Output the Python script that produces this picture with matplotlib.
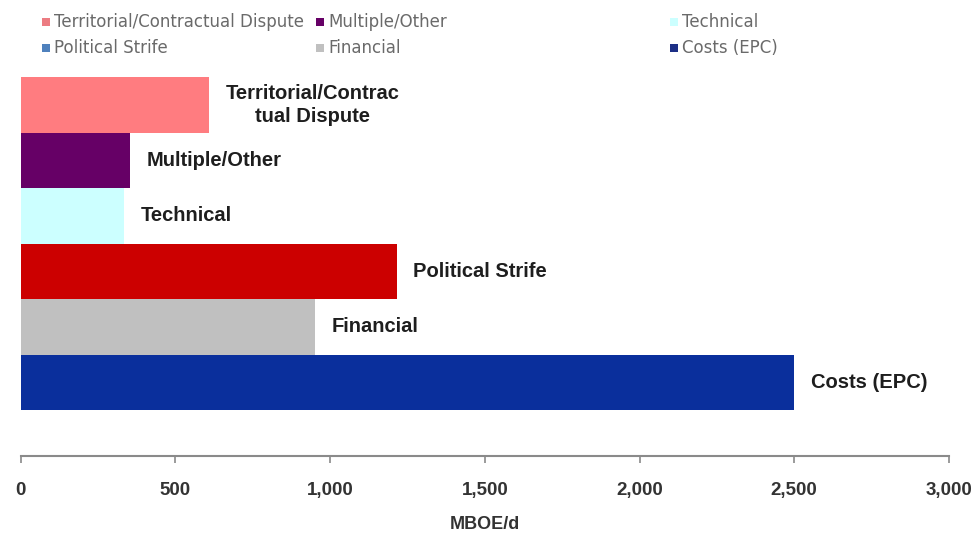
import matplotlib
matplotlib.use("Agg")
import matplotlib.pyplot as plt
from matplotlib.patches import Rectangle
from matplotlib.ticker import FuncFormatter

# delays by cause, MBOE/d (bottom to top)
causes = ["Costs (EPC)", "Financial", "Political Strife",
          "Technical", "Multiple/Other", "Territorial/Contractual Dispute"]
bar_labels = ["Costs (EPC)", "Financial", "Political Strife",
              "Technical", "Multiple/Other", "Territorial/Contrac\ntual Dispute"]
volumes = [2500, 950, 1215, 335, 355, 610]
bar_colors = ["#0a2f9c", "#c0c0c0", "#cc0000", "#ccffff", "#660066", "#ff7c80"]

# legend order and swatch colours
legend_names = ["Territorial/Contractual Dispute", "Multiple/Other", "Technical",
                "Political Strife", "Financial", "Costs (EPC)"]
legend_colors = ["#ec7c82", "#660066", "#ccffff", "#4f81bd", "#c0c0c0", "#1c2f86"]

xticks = [0, 500, 1000, 1500, 2000, 2500, 3000]

fig = plt.figure(figsize=(9.76, 5.35), dpi=100)
ax = fig.add_axes([0.0211, 0.1477, 0.9512, 0.7079])

ypos = list(range(len(causes)))
ax.barh(ypos, volumes, height=1.0, color=bar_colors, edgecolor="none")

for y, v, lab in zip(ypos, volumes, bar_labels):
    ax.annotate(lab, xy=(v, y), xytext=(12, 0), textcoords="offset points",
                ha="left", va="center", multialignment="center", linespacing=1.3,
                fontsize=14.5, fontweight="bold", color="#1e1e1e",
                family="Liberation Sans")

ax.set_xlim(0, 3000)
ax.set_ylim(-1.33, 5.5)
ax.set_yticks([])
for s in ["left", "top", "right"]:
    ax.spines[s].set_visible(False)
ax.spines["bottom"].set_color("#8a8a8a")
ax.spines["bottom"].set_linewidth(1.5)

ax.set_xticks(xticks)
ax.xaxis.set_major_formatter(FuncFormatter(lambda v, p: f"{int(v):,}"))
ax.tick_params(axis="x", direction="out", length=5, width=1.2, color="#8a8a8a",
               pad=14, labelsize=13.5, labelcolor="#333333")
for t in ax.get_xticklabels():
    t.set_fontweight("bold")
    t.set_family("Liberation Sans")
ax.set_xlabel("MBOE/d", fontsize=13, fontweight="bold", color="#333333",
              family="Liberation Sans", labelpad=12)

# legend laid out as three columns of two rows across the top
col_x = [42, 316, 670]
row_y = [22, 48]
W, H = 976, 535
for i, (name, col) in enumerate(zip(legend_names, legend_colors)):
    cx = col_x[i % 3]
    cy = row_y[i // 3]
    fig.patches.append(Rectangle((cx / W, 1 - (cy + 4) / H), 8 / W, 8 / H,
                                 transform=fig.transFigure, facecolor=col,
                                 edgecolor="none"))
    fig.text((cx + 12) / W, 1 - cy / H, name, ha="left", va="center",
             fontsize=12, color="#6a6a6a", family="DejaVu Sans")

fig.savefig("out.png", dpi=100)
